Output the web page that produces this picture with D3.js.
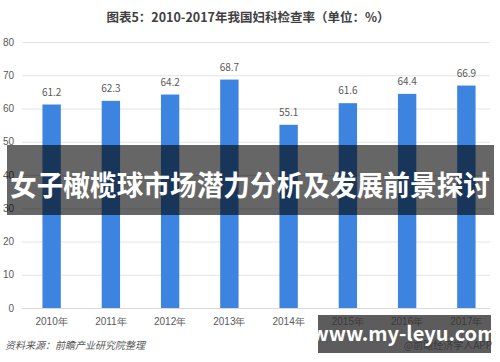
<!DOCTYPE html>
<html>
<head>
<meta charset="utf-8">
<script src="https://cdn.jsdelivr.net/npm/d3@7"></script>
<style>
  body { margin: 0; background: #fff; }
  svg { display: block; font-family: "Noto Sans CJK SC", "Noto Sans", sans-serif; }
</style>
</head>
<body>
<div id="chart"></div>
<script>
var years = ["2010年", "2011年", "2012年", "2013年", "2014年", "2015年", "2016年", "2017年"];
var rates = [61.2, 62.3, 64.2, 68.7, 55.1, 61.6, 64.4, 66.9];
var yTicks = [0, 10, 20, 30, 40, 50, 60, 70, 80];

var width = 500, height = 362;

var svg = d3.select("#chart").append("svg")
    .attr("width", width)
    .attr("height", height);

// scales
var x = d3.scaleBand()
    .domain(years)
    .range([22, 496])
    .paddingInner(0.69)
    .paddingOuter(0.345);

var y = d3.scaleLinear()
    .domain([0, 80])
    .range([308, 42]);

// title
svg.append("text")
    .attr("x", 248)
    .attr("y", 22)
    .attr("text-anchor", "middle")
    .style("font-size", "12.5px")
    .style("font-weight", "bold")
    .style("fill", "#404040")
    .text("图表5：2010-2017年我国妇科检查率（单位：%）");

// gridlines + y labels
var yAxis = d3.axisLeft(y)
    .tickValues(yTicks)
    .tickSize(-(490 - 22))
    .tickPadding(8);

var gy = svg.append("g")
    .attr("transform", "translate(22,0)")
    .call(yAxis);
gy.select(".domain").remove();
gy.selectAll(".tick line")
    .attr("stroke", function(d) { return d === 0 ? "#d9d9d9" : "#e4e4e4"; });
gy.selectAll(".tick text")
    .attr("x", -8)
    .style("font-size", "10px")
    .style("fill", "#595959");

// faint watermarks
var marks = [[100, 95], [260, 110], [420, 110], [170, 262], [380, 262]];
svg.append("g").selectAll("text")
    .data(marks)
    .enter().append("text")
    .attr("transform", function(d) { return "translate(" + d[0] + "," + d[1] + ") rotate(-35)"; })
    .attr("text-anchor", "middle")
    .style("font-size", "22px")
    .style("font-weight", "bold")
    .style("fill", "#000")
    .style("fill-opacity", 0.025)
    .text("前瞻产业研究院");

// bars
svg.append("g").selectAll("rect")
    .data(rates)
    .enter().append("rect")
    .attr("x", function(d, i) { return x(years[i]); })
    .attr("y", function(d) { return y(d); })
    .attr("width", x.bandwidth())
    .attr("height", function(d) { return y(0) - y(d); })
    .attr("fill", "#3d84e0");

// value labels
svg.append("g").selectAll("text")
    .data(rates)
    .enter().append("text")
    .attr("x", function(d, i) { return x(years[i]) + x.bandwidth() / 2; })
    .attr("y", function(d) { return y(d) - 9; })
    .attr("text-anchor", "middle")
    .style("font-size", "10px")
    .style("fill", "#595959")
    .text(function(d) { return d.toFixed(1); });

// x axis labels
var xAxis = d3.axisBottom(x).tickSize(0).tickPadding(10);
var gx = svg.append("g")
    .attr("transform", "translate(0,308)")
    .call(xAxis);
gx.select(".domain").remove();
gx.selectAll(".tick text")
    .style("font-size", "10px")
    .style("fill", "#595959");

// source
svg.append("text")
    .attr("x", 5)
    .attr("y", 349)
    .style("font-size", "10px")
    .style("font-style", "italic")
    .style("fill", "#595959")
    .text("资料来源：前瞻产业研究院整理");

svg.append("text")
    .attr("x", 492)
    .attr("y", 349)
    .attr("text-anchor", "end")
    .style("font-size", "10px")
    .style("fill", "#595959")
    .text("@前瞻经济学人APP");

// overlay banner
svg.append("rect")
    .attr("x", 7)
    .attr("y", 145)
    .attr("width", 487)
    .attr("height", 70)
    .attr("fill", "#000")
    .attr("fill-opacity", 0.6);

svg.append("text")
    .attr("x", 250)
    .attr("y", 196)
    .attr("text-anchor", "middle")
    .attr("textLength", 480)
    .attr("lengthAdjust", "spacingAndGlyphs")
    .style("font-size", "28px")
    .style("font-weight", "bold")
    .style("fill", "#fff")
    .text("女子橄榄球市场潜力分析及发展前景探讨");

// site watermark box
svg.append("rect")
    .attr("x", 318)
    .attr("y", 315)
    .attr("width", 173)
    .attr("height", 38)
    .attr("fill", "#333")
    .attr("fill-opacity", 0.8);

svg.append("text")
    .attr("x", 404)
    .attr("y", 341)
    .attr("text-anchor", "middle")
    .style("font-size", "20px")
    .style("font-weight", "bold")
    .style("fill", "#fff")
    .text("www.my-leyu.com");
</script>
</body>
</html>
